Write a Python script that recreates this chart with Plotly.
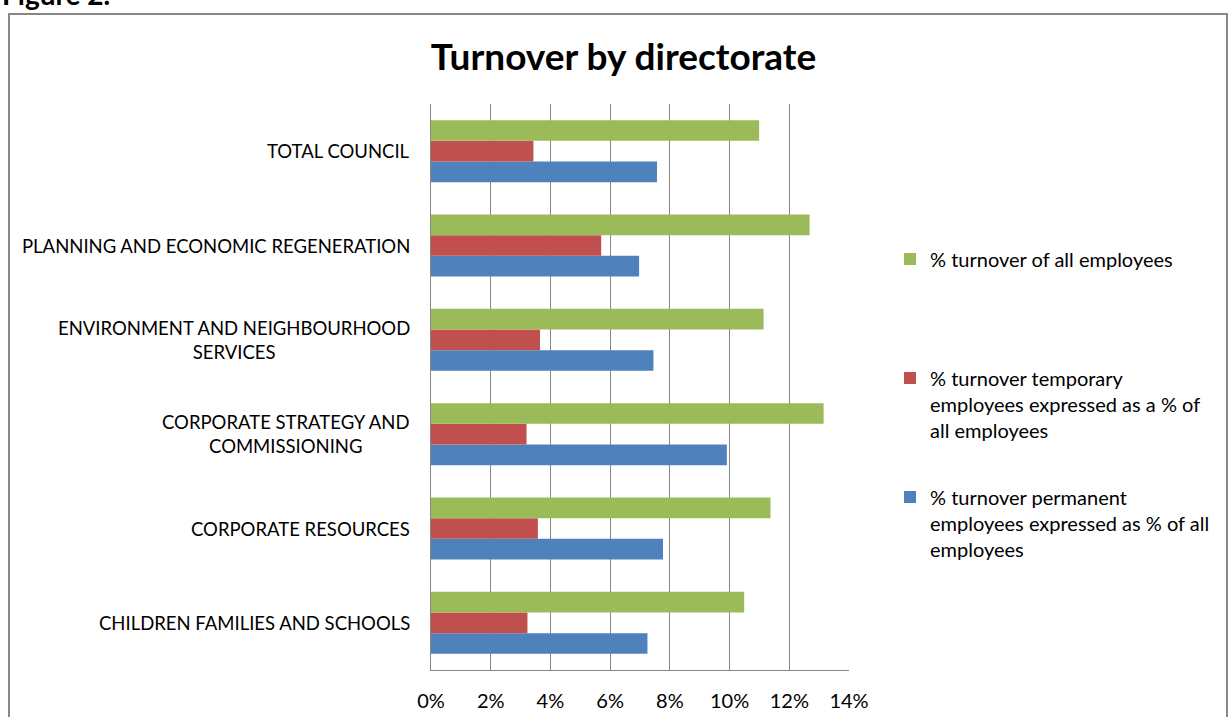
import plotly.graph_objects as go

# Directorates, listed bottom to top as they appear on the axis
directorates = [
    "CHILDREN FAMILIES AND SCHOOLS",
    "CORPORATE RESOURCES",
    "CORPORATE STRATEGY AND<br>COMMISSIONING",
    "ENVIRONMENT AND NEIGHBOURHOOD<br>SERVICES",
    "PLANNING AND ECONOMIC REGENERATION",
    "TOTAL COUNCIL",
]

# Turnover rates (fractions)
permanent_pct = [0.0725, 0.0777, 0.0991, 0.0745, 0.0697, 0.0757]
temporary_pct = [0.0323, 0.0358, 0.0320, 0.0365, 0.0570, 0.0343]
all_pct = [0.1049, 0.1137, 0.1315, 0.1114, 0.1268, 0.1099]

series_names = [
    "% turnover permanent<br>employees expressed as % of all<br>employees",
    "% turnover temporary<br>employees expressed as a % of<br>all employees",
    "% turnover of all employees",
]
series_colors = ["#4F81BD", "#C0504D", "#9BBB59"]

x_ticks = [0, 0.02, 0.04, 0.06, 0.08, 0.10, 0.12, 0.14]

FONT = "Lato"
W, H = 1229, 717
L, R, T, B = 431, 849, 104, 670

fig = go.Figure()
legend_ids = ["legend", "legend2", "legend3"]
for vals, name, color, lg in zip(
    [permanent_pct, temporary_pct, all_pct], series_names, series_colors, legend_ids
):
    fig.add_trace(
        go.Bar(
            x=vals,
            y=directorates,
            orientation="h",
            name=name,
            marker=dict(color=color, line=dict(width=0)),
            legend=lg,
        )
    )

# Category labels drawn as centred multi-line text to the left of the axis
annotations = []
for cat in directorates:
    annotations.append(
        dict(
            x=0, xref="paper", y=cat, yref="y",
            text=cat, showarrow=False, xanchor="right", yanchor="middle",
            align="center", xshift=-19,
            font=dict(family=FONT, size=18.5, color="#000000"),
        )
    )

# Page caption sitting above the chart frame
annotations.append(
    dict(
        x=0, xref="paper", xshift=-431, y=1, yref="paper", yshift=104 - 13,
        text="<b>Figure 2.</b>", showarrow=False, xanchor="left", yanchor="bottom",
        font=dict(family=FONT, size=28, color="#000000"),
    )
)

pw, ph = R - L, B - T


def px_x(v):
    return (v - L) / pw


def px_y(v):
    return (B - v) / ph


legend_common = dict(
    xref="container", yref="container", xanchor="left", yanchor="middle",
    bgcolor="rgba(0,0,0,0)", valign="top",
    font=dict(family=FONT, size=20, color="#000000"),
    itemclick=False, itemdoubleclick=False,
)

fig.update_layout(
    width=W, height=H,
    margin=dict(l=L, r=W - R, t=T, b=H - B, pad=0, autoexpand=False),
    paper_bgcolor="white", plot_bgcolor="white",
    title=dict(
        text="<b>Turnover by directorate</b>",
        x=623.5 / W, xref="container", xanchor="center",
        y=1 - 57 / H, yref="container", yanchor="middle",
        font=dict(family=FONT, size=37, color="#000000"),
    ),
    barmode="group", bargap=0.343, bargroupgap=0,
    xaxis=dict(
        range=[0, 0.14], tickvals=x_ticks, tickformat=".0%",
        showgrid=True, gridcolor="#868686", gridwidth=1,
        showline=True, linecolor="#868686", linewidth=1,
        zeroline=False, ticks="", ticklabelstandoff=13,
        tickfont=dict(family=FONT, size=20, color="#000000"),
        automargin=False, fixedrange=True,
    ),
    yaxis=dict(
        showticklabels=False, showgrid=False, zeroline=False,
        showline=True, linecolor="#868686", linewidth=1,
        range=[-0.5, 5.5], automargin=False, fixedrange=True,
    ),
    legend=dict(x=890 / W, y=1 - 523 / H, **legend_common),
    legend2=dict(x=890 / W, y=1 - 404 / H, **legend_common),
    legend3=dict(x=890 / W, y=1 - 259 / H, **legend_common),
    annotations=annotations,
    shapes=[
        dict(
            type="rect", xref="paper", yref="paper",
            x0=px_x(9), x1=px_x(1227), y0=px_y(725), y1=px_y(14),
            line=dict(color="#878787", width=2), fillcolor="rgba(0,0,0,0)",
            layer="below",
        )
    ],
    showlegend=True,
)

fig.write_html("out.html")
